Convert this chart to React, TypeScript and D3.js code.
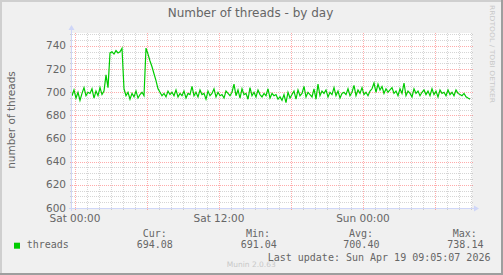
import React from "react";
import * as d3 from "d3";

const TITLE = "Number of threads - by day";
const Y_LABEL = "number of threads";
const SERIES_NAME = "threads";
const START_HOUR = -0.248; // hours relative to Sat 00:00
const STEP_HOURS = 1 / 6;
const threads: number[] = [
  697, 702, 695, 700, 693, 699, 704, 697, 700, 699,
  703, 695, 701, 697, 704, 698, 701, 715, 704, 734,
  735, 733, 736, 734, 735, 738, 703, 697, 700, 694,
  699, 696, 701, 695, 698, 700, 697, 738.14, 733, 727,
  722, 716, 710, 703, 700, 697, 699, 696, 701, 698,
  700, 697, 702, 696, 699, 697, 701, 695, 699, 698,
  705, 697, 700, 696, 702, 698, 699, 694, 701, 697,
  699, 703, 696, 700, 697, 698, 695, 701, 699, 697,
  700, 707, 697, 702, 695, 703, 698, 699, 694, 704,
  697, 700, 696, 702, 698, 696, 699, 697, 703, 695,
  699, 697, 698, 694, 696, 693, 698, 691.04, 700, 695,
  698, 701, 694, 702, 697, 699, 705, 696, 700, 698,
  696, 703, 694, 707, 697, 701, 699, 702, 696, 700,
  698, 704, 697, 701, 695, 699, 700, 698, 703, 697,
  700, 706, 697, 702, 699, 704, 698, 700, 697, 701,
  703, 708, 700, 707, 702, 705, 699, 703, 700, 702,
  704, 699, 701, 697, 703, 699, 708, 697, 701, 699,
  696, 703, 699, 701, 697, 700, 702, 698, 701, 697,
  703, 698, 701, 696, 702, 699, 700, 697, 702, 698,
  700, 697, 702, 699, 698, 697, 699, 696, 695, 694.08,
];
const xTickHours = [0, 12, 24];
const xTickLabels = ["Sat 00:00", "Sat 12:00", "Sun 00:00"];
const yTicks = [600, 620, 640, 660, 680, 700, 720, 740];
const legendHeaders = ["Cur:", "Min:", "Avg:", "Max:"];
const legendValues = ["694.08", "691.04", "700.40", "738.14"];
const LAST_UPDATE = "Last update: Sun Apr 19 09:05:07 2026";
const WATERMARK = "Munin 2.0.63";
const RRD_TEXT = "RRDTOOL / TOBI OETIKER";

const W = 503;
const H = 275;
const PL = 72;
const PR = 472;
const PT = 33;
const PB = 208;

export default function App() {
  const endHour = START_HOUR + STEP_HOURS * threads.length;
  const x = d3.scaleLinear().domain([START_HOUR, endHour]).range([PL, PR]);
  const y = d3.scaleLinear().domain([600, 751.2]).range([PB, PT]);
  const line = d3
    .line<number>()
    .x((_, i) => x(START_HOUR + i * STEP_HOURS))
    .y((d) => y(d));

  const minorX = d3.range(Math.ceil(START_HOUR), Math.floor(endHour) + 1);
  const minorY = d3.range(605, 751, 5);
  const gridMinor = "rgba(128,128,128,0.33)";
  const gridMajor = "rgba(255,0,0,0.33)";
  const font = "DejaVu Sans, sans-serif";
  const mono = "DejaVu Sans Mono, monospace";
  const fc = "#666666";
  const axisC = "#CFD6F8";
  const colX = [136.7, 240.7, 343.3, 447.3];
  const hdrX = [142.7, 246, 349, 452.7];

  return (
    <svg
      width={W}
      height={H}
      style={{ position: "fixed", left: 0, top: 0, display: "block" }}
      xmlns="http://www.w3.org/2000/svg"
    >
      <rect x={0} y={0} width={W} height={H} fill="#F0F0F0" />
      <rect x={0} y={0} width={W} height={2} fill="#CFCFCF" />
      <rect x={0} y={0} width={2} height={H} fill="#CFCFCF" />
      <rect x={0} y={H - 2} width={W} height={2} fill="#9E9E9E" />
      <rect x={W - 2} y={0} width={2} height={H} fill="#9E9E9E" />

      <text x={250.5} y={17} textAnchor="middle" fontFamily={font} fontSize={12} fill={fc}>
        {TITLE}
      </text>

      <rect x={PL} y={PT} width={PR - PL} height={PB - PT} fill="#FFFFFF" />

      <g shapeRendering="crispEdges">
        {minorY.map((v) => (
          <line
            key={"my" + v}
            x1={PL - 2}
            x2={PR + 2}
            y1={Math.round(y(v)) + 0.5}
            y2={Math.round(y(v)) + 0.5}
            stroke={v % 20 === 0 ? gridMajor : gridMinor}
            strokeDasharray="1,1"
          />
        ))}
        {minorX.map((h) => (
          <line
            key={"mx" + h}
            x1={Math.round(x(h)) + 0.5}
            x2={Math.round(x(h)) + 0.5}
            y1={PT}
            y2={PB + 2}
            stroke={h % 6 === 0 ? gridMajor : gridMinor}
            strokeDasharray="1,1"
          />
        ))}
      </g>

      <path d={line(threads) || ""} fill="none" stroke="#00CC00" strokeWidth={1.2} />

      <g shapeRendering="crispEdges">
        <line x1={PL - 3} x2={PR + 4} y1={PB + 0.5} y2={PB + 0.5} stroke={axisC} />
        <line x1={PL - 0.5} x2={PL - 0.5} y1={PB + 3} y2={PT - 4} stroke={axisC} />
      </g>
      <path d={`M${PR + 7},${PB + 0.5} L${PR + 2},${PB - 2.5} L${PR + 2},${PB + 3.5} Z`} fill={axisC} />
      <path d={`M${PL - 0.5},${PT - 8} L${PL - 3.5},${PT - 3} L${PL + 2.5},${PT - 3} Z`} fill={axisC} />

      {yTicks.map((v) => (
        <text key={"yt" + v} x={66} y={y(v) + 3.5} textAnchor="end" fontFamily={font} fontSize={10.5} fill={fc}>
          {v}
        </text>
      ))}
      {xTickHours.map((h, i) => (
        <text key={"xt" + h} x={x(h)} y={221.5} textAnchor="middle" fontFamily={font} fontSize={10.5} fill={fc}>
          {xTickLabels[i]}
        </text>
      ))}

      <text
        transform={`translate(15,120) rotate(-90)`}
        textAnchor="middle"
        fontFamily={font}
        fontSize={10.5}
        fill={fc}
      >
        {Y_LABEL}
      </text>

      <text
        transform={`translate(490,5) rotate(90)`}
        fontFamily={font}
        fontSize={6.5}
        fill="#C8C8C8"
        textLength={98}
        lengthAdjust="spacingAndGlyphs"
      >
        {RRD_TEXT}
      </text>

      <rect x={14} y={242.7} width={6} height={6} fill="#00CC00" />
      <text x={26.7} y={248} fontFamily={mono} fontSize={10} fill={fc}>
        {SERIES_NAME}
      </text>
      {legendHeaders.map((t, i) => (
        <text key={"lh" + i} x={hdrX[i]} y={236.5} fontFamily={mono} fontSize={10} fill={fc}>
          {t}
        </text>
      ))}
      {legendValues.map((t, i) => (
        <text key={"lv" + i} x={colX[i]} y={248} fontFamily={mono} fontSize={10} fill={fc}>
          {t}
        </text>
      ))}
      <text x={267.7} y={260.5} fontFamily={mono} fontSize={10} fill={fc}>
        {LAST_UPDATE}
      </text>
      <text x={226.7} y={266.5} fontFamily={font} fontSize={7.5} fill="#C8C8C8">
        {WATERMARK}
      </text>
    </svg>
  );
}
